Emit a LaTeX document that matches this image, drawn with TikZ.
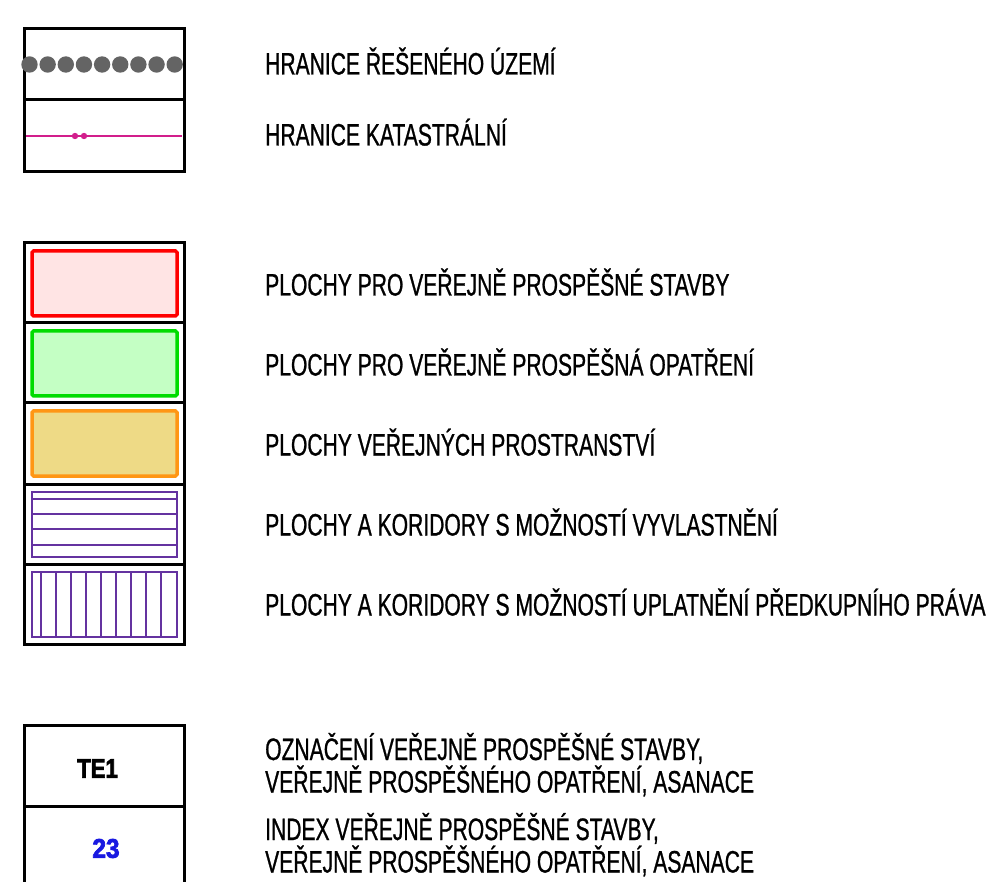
\documentclass[tikz,border=0pt]{standalone}
\usepackage{fontspec}
\setmainfont{Liberation Sans}[FakeStretch=0.68,FakeBold=0.8]
\newfontfamily\tagfont{Liberation Sans Bold}[FakeStretch=0.82,FakeBold=2.5]
\definecolor{dotgray}{RGB}{100,100,100}
\definecolor{katmag}{RGB}{210,30,140}
\definecolor{vpsred}{RGB}{255,0,0}
\definecolor{vpsredfill}{RGB}{255,228,228}
\definecolor{vpogreen}{RGB}{0,220,0}
\definecolor{vpogreenfill}{RGB}{196,255,196}
\definecolor{pporange}{RGB}{255,150,20}
\definecolor{ppfill}{RGB}{238,218,134}
\definecolor{hatchpurple}{RGB}{100,50,160}
\definecolor{indexblue}{RGB}{25,25,225}

\begin{document}
\begin{tikzpicture}[x=1pt,y=-1pt,
  frame/.style={line width=3pt},
  plocha/.style={line width=3.5pt,rounded corners=1.5pt},
  hatch/.style={draw=hatchpurple,line width=2pt},
  tagtext/.style={inner sep=0pt,font=\tagfont\fontsize{27}{28}\selectfont},
  legtext/.style={anchor=base west,inner sep=0pt,align=left,font=\fontsize{31}{32.5}\selectfont}]
\useasboundingbox (0,0) rectangle (1004,882);

\draw[frame] (24,29) rectangle (184,172);
\draw[frame] (24,100) -- (184,100);
\foreach \i in {0,...,8}{
\fill[dotgray] (29.5+18.15*\i,64.5) circle (8.2);
}
\draw[katmag,line width=2pt] (26,136) -- (182,136);
\fill[katmag] (75,136) circle (3.2) (84,136) circle (3.2);

\draw[frame] (24,243) rectangle (184,644);
\foreach \y in {323,403,484,564}{
\draw[frame] (24,\y) -- (184,\y);
}
\draw[plocha,draw=vpsred,fill=vpsredfill] (32,251) rectangle (177,316);
\draw[plocha,draw=vpogreen,fill=vpogreenfill] (32,331) rectangle (177,396);
\draw[plocha,draw=pporange,fill=ppfill] (32,411) rectangle (177,476);
\draw[hatch] (32,492) rectangle (177,557);
\foreach \y in {499,514,529,545}{
\draw[hatch] (32,\y) -- (177,\y);
}
\draw[hatch] (32,572) rectangle (177,637);
\foreach \x in {41,56,...,162}{
\draw[hatch] (\x,572) -- (\x,637);
}

\draw[frame] (24,882) -- (24,725) -- (184,725) -- (184,882);
\draw[frame] (24,806) -- (184,806);
\node[tagtext] (te) at (97.5,768.5) {TE1};
\node[tagtext,text=indexblue,xscale=1.1] (idx) at (106,848.5) {23};

\node[legtext] (hranice) at (265,74.5) {HRANICE ŘEŠENÉHO ÚZEMÍ};
\node[legtext] (katastr) at (265,145.5) {HRANICE KATASTRÁLNÍ};
\node[legtext] (vps) at (265,295.5) {PLOCHY PRO VEŘEJNĚ PROSPĚŠNÉ STAVBY};
\node[legtext] (vpo) at (265,375.5) {PLOCHY PRO VEŘEJNĚ PROSPĚŠNÁ OPATŘENÍ};
\node[legtext] (vp) at (265,455.5) {PLOCHY VEŘEJNÝCH PROSTRANSTVÍ};
\node[legtext] (vyvl) at (265,535.5) {PLOCHY A KORIDORY S MOŽNOSTÍ VYVLASTNĚNÍ};
\node[legtext] (predk) at (265,615.5) {PLOCHY A KORIDORY S MOŽNOSTÍ UPLATNĚNÍ PŘEDKUPNÍHO PRÁVA};
\node[legtext] (oznac) at (265,792.5) {OZNAČENÍ VEŘEJNĚ PROSPĚŠNÉ STAVBY,\\VEŘEJNĚ PROSPĚŠNÉHO OPATŘENÍ, ASANACE};
\node[legtext] (index) at (265,872.5) {INDEX VEŘEJNĚ PROSPĚŠNÉ STAVBY,\\VEŘEJNĚ PROSPĚŠNÉHO OPATŘENÍ, ASANACE};
\end{tikzpicture}
\end{document}
